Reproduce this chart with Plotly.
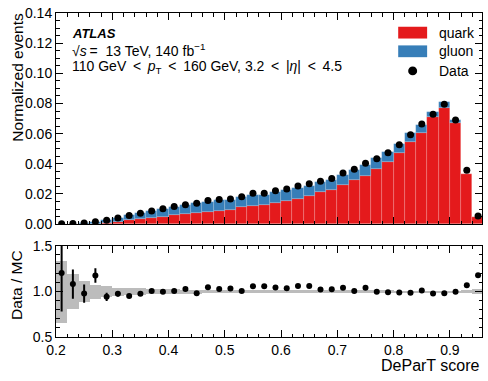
import plotly.graph_objects as go

# bin centres (width 0.02)
score = [0.21, 0.23, 0.25, 0.27, 0.29, 0.31, 0.33, 0.35, 0.37, 0.39,
         0.41, 0.43, 0.45, 0.47, 0.49, 0.51, 0.53, 0.55, 0.57, 0.59,
         0.61, 0.63, 0.65, 0.67, 0.69, 0.71, 0.73, 0.75, 0.77, 0.79,
         0.81, 0.83, 0.85, 0.87, 0.89, 0.91, 0.93, 0.95]

quark = [0.00003, 0.00005, 0.0001, 0.0003, 0.0008, 0.0017, 0.0026, 0.0033, 0.0041, 0.0048,
         0.0059, 0.0065, 0.0073, 0.0080, 0.0089, 0.0093, 0.0111, 0.0122, 0.0125, 0.0139,
         0.0155, 0.0168, 0.0185, 0.0210, 0.0225, 0.0256, 0.0291, 0.0321, 0.0367, 0.0410,
         0.0469, 0.0543, 0.0606, 0.0708, 0.0773, 0.0671, 0.0331, 0.0045]

gluon = [0.00022, 0.00032, 0.0006, 0.0011, 0.0019, 0.0025, 0.0034, 0.0041, 0.0046, 0.0054,
         0.0056, 0.0061, 0.0069, 0.0069, 0.0070, 0.0069, 0.0070, 0.0071, 0.0068, 0.0073,
         0.0070, 0.0070, 0.0068, 0.0068, 0.0070, 0.0071, 0.0070, 0.0068, 0.0069, 0.0068,
         0.0065, 0.0060, 0.0052, 0.0038, 0.0037, 0.0022, 0.0004, 0.0001]

data = [0.0003, 0.0004, 0.0007, 0.0016, 0.0025, 0.0041, 0.0057, 0.0072, 0.0087, 0.0102,
        0.0116, 0.0129, 0.0139, 0.0156, 0.0163, 0.0167, 0.0182, 0.0204, 0.0204, 0.0221,
        0.0233, 0.0252, 0.0268, 0.0284, 0.0302, 0.0339, 0.0363, 0.0404, 0.0434, 0.0473,
        0.0527, 0.0593, 0.0664, 0.0729, 0.0794, 0.0690, 0.0357, 0.0054]

ratio = [1.20, 1.08, 0.976, 1.174, 0.94, 0.973, 0.95, 0.973, 1.005, 0.995,
         1.005, 1.027, 0.98, 1.045, 1.027, 1.03, 1.005, 1.056, 1.057, 1.041,
         1.034, 1.059, 1.059, 1.02, 1.024, 1.038, 1.005, 1.038, 0.995, 0.99,
         0.987, 0.984, 1.009, 0.977, 0.98, 0.995, 1.067, 1.177]

ratio_err = [0.42, 0.16, 0.10, 0.08, 0.045, 0.03, 0.02, 0.015, 0.012, 0.012,
             0.01, 0.01, 0.01, 0.01, 0.01, 0.01, 0.01, 0.01, 0.01, 0.01,
             0.01, 0.01, 0.01, 0.01, 0.01, 0.01, 0.01, 0.01, 0.01, 0.01,
             0.01, 0.01, 0.01, 0.01, 0.01, 0.01, 0.01, 0.025]

band_lo = [0.66, 0.81, 0.885, 0.925, 0.94, 0.955, 0.96, 0.965, 0.97, 0.972,
           0.975, 0.977, 0.978, 0.98, 0.981, 0.982, 0.982, 0.983, 0.983, 0.984,
           0.984, 0.985, 0.985, 0.985, 0.986, 0.986, 0.986, 0.987, 0.987, 0.987,
           0.988, 0.988, 0.988, 0.988, 0.988, 0.988, 0.985, 0.97]
band_w = [0.68, 0.38, 0.23, 0.15, 0.12, 0.09, 0.08, 0.07, 0.06, 0.056,
          0.05, 0.046, 0.044, 0.04, 0.038, 0.036, 0.036, 0.034, 0.034, 0.032,
          0.032, 0.03, 0.03, 0.03, 0.028, 0.028, 0.028, 0.026, 0.026, 0.026,
          0.024, 0.024, 0.024, 0.024, 0.024, 0.024, 0.03, 0.06]

W, H = 488, 381
L, R, T, B = 56, 5, 7, 44
pw, ph = W - L - R, H - T - B

def px(x):
	return (x - L) / pw

def py(y):
	return (T + ph - y) / ph

red = '#e41a1c'
blue = '#377eb8'
font = 'Liberation Sans, Arial, sans-serif'
ts = '\u2009'  # thin space, mathtext puts some room round relations

fig = go.Figure()
fig.add_trace(go.Bar(x=score, y=quark, width=0.02, marker=dict(color=red, line=dict(width=0.6, color='rgba(255,255,255,0.25)')),
                     xaxis='x', yaxis='y', showlegend=False))
fig.add_trace(go.Bar(x=score, y=gluon, base=quark, width=0.02, marker=dict(color=blue, line=dict(width=0.6, color='rgba(255,255,255,0.25)')),
                     xaxis='x', yaxis='y', showlegend=False))
fig.add_trace(go.Scatter(x=score, y=data, mode='markers', marker=dict(color='black', size=7),
                         xaxis='x', yaxis='y', showlegend=False))

fig.add_trace(go.Bar(x=score, y=band_w, base=band_lo, width=0.02, marker=dict(color='#bcbcbc', line=dict(width=0)),
                     xaxis='x2', yaxis='y2', showlegend=False))
fig.add_trace(go.Scatter(x=score, y=ratio, mode='markers', marker=dict(color='black', size=6),
                         error_y=dict(type='data', array=ratio_err, color='black', thickness=2, width=0),
                         xaxis='x2', yaxis='y2', showlegend=False))

axis_common = dict(showline=True, linecolor='black', linewidth=1, mirror='allticks', ticks='inside',
                   tickcolor='black', ticklen=7, tickwidth=1, showgrid=False, zeroline=False,
                   tickfont=dict(family=font, size=14, color='black'))

ratio_dom = [0, 93 / ph]
main_dom = [(T + ph - 222) / ph, 1]

fig.update_layout(
	width=W, height=H, margin=dict(l=L, r=R, t=T, b=B),
	paper_bgcolor='white', plot_bgcolor='white', barmode='overlay', bargap=0,
	font=dict(family=font, size=14, color='black'),
	xaxis=dict(axis_common, domain=[0, 1], range=[0.2, 0.957], anchor='y', dtick=0.1, tick0=0.2, showticklabels=False,
	           minor=dict(ticks='inside', dtick=0.02, tick0=0.2, ticklen=3.5, tickcolor='black')),
	yaxis=dict(axis_common, domain=main_dom, range=[0, 0.14], anchor='x', dtick=0.02, tickformat='.2f',
	           minor=dict(ticks='inside', dtick=0.005, ticklen=3.5, tickcolor='black')),
	xaxis2=dict(axis_common, domain=[0, 1], range=[0.2, 0.957], anchor='y2', dtick=0.1, tick0=0.2, tickformat='.1f',
	            minor=dict(ticks='inside', dtick=0.02, tick0=0.2, ticklen=3.5, tickcolor='black')),
	yaxis2=dict(axis_common, domain=ratio_dom, range=[0.5, 1.5], anchor='x2', dtick=0.5, tickformat='.1f',
	            minor=dict(ticks='inside', dtick=0.1, ticklen=3.5, tickcolor='black')),
)

ann = []
ann.append(dict(text='<b><i>ATLAS</i></b>', x=px(70), y=py(28), xanchor='left', yanchor='middle', font=dict(size=13)))
ann.append(dict(text='√<i>s</i>' + ts + '=' + '\u00a0\u00a0' + '13 TeV, 140 fb<sup>−1</sup>', x=px(70), y=py(45),
                xanchor='left', yanchor='middle', font=dict(size=14)))
ann.append(dict(text='110 GeV' + ts + ' < ' + ts + '<i>p</i><sub>T</sub>' + ts + ' < ' + ts + '160 GeV, 3.2' + ts + ' < ' + ts
                + '|<i>η</i>|' + ts + ' < ' + ts + '4.5', x=px(70), y=py(62), xanchor='left', yanchor='middle', font=dict(size=14)))
ann.append(dict(text='quark', x=px(438), y=py(27), xanchor='left', yanchor='middle', font=dict(size=14)))
ann.append(dict(text='gluon', x=px(438), y=py(46), xanchor='left', yanchor='middle', font=dict(size=14)))
ann.append(dict(text='Data', x=px(438), y=py(66), xanchor='left', yanchor='middle', font=dict(size=14)))
ann.append(dict(text='Normalized events', x=px(17), y=py(5), xanchor='center', yanchor='top', textangle=-90, font=dict(size=15.5)))
ann.append(dict(text='Data / MC', x=px(17), y=py(284), xanchor='center', yanchor='middle', textangle=-90, font=dict(size=15.5)))
ann.append(dict(text='DeParT score', x=px(483), y=py(366), xanchor='right', yanchor='middle', font=dict(size=16)))
for a in ann:
	a.update(xref='paper', yref='paper', showarrow=False)
fig.update_layout(annotations=ann)

fig.update_layout(shapes=[
	dict(type='rect', xref='paper', yref='paper', x0=px(399), x1=px(428), y0=py(21), y1=py(33), fillcolor=red, line=dict(width=0)),
	dict(type='rect', xref='paper', yref='paper', x0=px(399), x1=px(428), y0=py(40), y1=py(52), fillcolor=blue, line=dict(width=0)),
	dict(type='circle', xref='paper', yref='paper', x0=px(409), x1=px(418), y0=py(61.5), y1=py(70.5), fillcolor='black', line=dict(width=0)),
])

# the page body has a default margin, drop it so the figure sits at 0,0
fig.write_html('out.html', config={'displayModeBar': False},
               post_script="document.body.style.margin='0';document.body.style.overflow='hidden';")
